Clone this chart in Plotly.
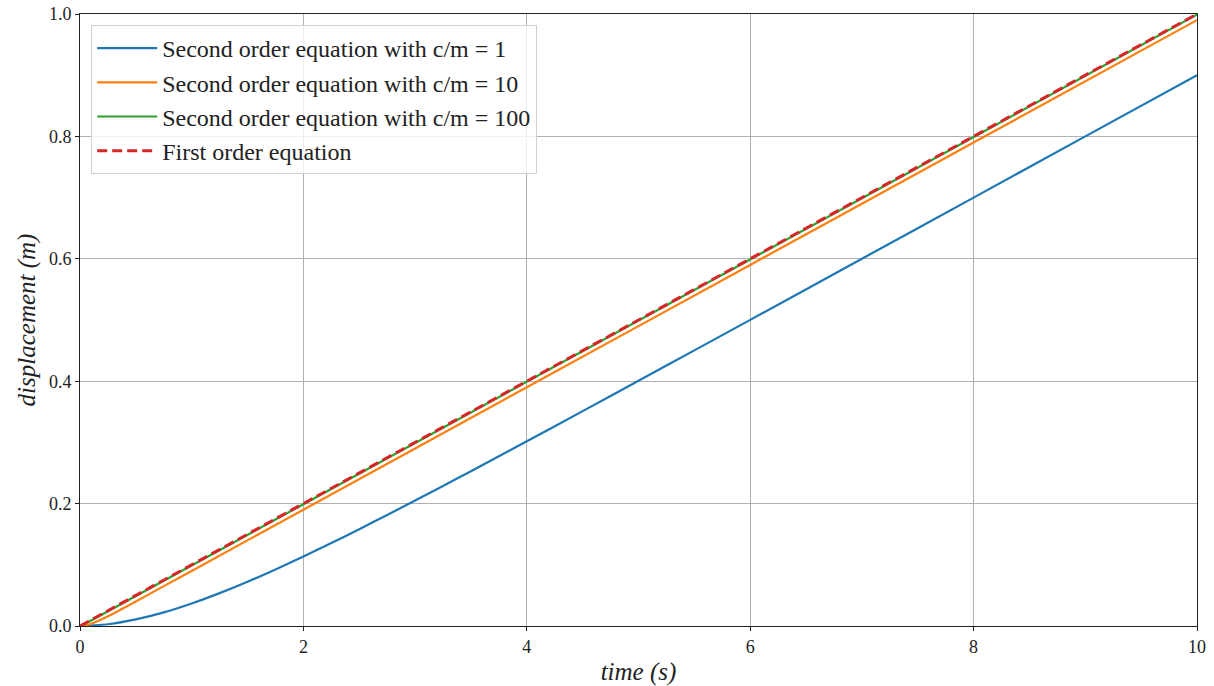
import plotly.graph_objects as go

# time samples (s) and displacements (m)
t_c1 = [0, 0.25, 0.5, 0.75, 1.0, 1.25, 1.5, 1.75, 2.0, 2.25, 2.5, 2.75, 3.0, 3.25, 3.5, 3.75, 4.0, 4.5, 5.0, 5.5, 6.0, 7.0, 8.0, 9.0, 10.0]
x_c1 = [0, 0.0029, 0.0107, 0.0222, 0.0368, 0.0537, 0.0723, 0.0924, 0.1135, 0.1355, 0.1582, 0.1814, 0.2050, 0.2289, 0.2530, 0.2773, 0.3018, 0.3511, 0.4007, 0.4504, 0.5002, 0.6001, 0.7000, 0.8000, 0.9000]

t_c10 = [0, 0.05, 0.1, 0.15, 0.2, 0.3, 0.4, 0.5, 0.75, 1.0, 2.0, 4.0, 6.0, 8.0, 10.0]
x_c10 = [0, 0.0011, 0.0037, 0.0072, 0.0114, 0.0205, 0.0302, 0.0401, 0.0651, 0.0900, 0.1900, 0.3900, 0.5900, 0.7900, 0.9900]

t_c100 = [0, 0.01, 0.02, 0.05, 0.1, 0.5, 2.0, 5.0, 10.0]
x_c100 = [0, 0.0004, 0.0011, 0.0041, 0.0090, 0.0490, 0.1990, 0.4990, 0.9990]

t_first = [0, 10.0]
x_first = [0, 1.0]

names = ["Second order equation with c/m = 1",
         "Second order equation with c/m = 10",
         "Second order equation with c/m = 100",
         "First order equation"]
colors = ["#1f77b4", "#ff7f0e", "#2ca02c", "#d62728"]

x_ticks = [0, 2, 4, 6, 8, 10]
y_ticks = [0.0, 0.2, 0.4, 0.6, 0.8, 1.0]
y_tick_text = ["0.0", "0.2", "0.4", "0.6", "0.8", "1.0"]

FONT = "Liberation Serif, DejaVu Serif, serif"

fig = go.Figure()
fig.add_trace(go.Scatter(x=t_c1, y=x_c1, mode="lines", name=names[0],
                         line=dict(color=colors[0], width=2.2, shape="spline", smoothing=0.6)))
fig.add_trace(go.Scatter(x=t_c10, y=x_c10, mode="lines", name=names[1],
                         line=dict(color=colors[1], width=2.2, shape="spline", smoothing=0.6)))
fig.add_trace(go.Scatter(x=t_c100, y=x_c100, mode="lines", name=names[2],
                         line=dict(color=colors[2], width=2.2)))
fig.add_trace(go.Scatter(x=t_first, y=x_first, mode="lines", name=names[3],
                         line=dict(color=colors[3], width=3, dash="10px,5px")))

axis_common = dict(
    showline=True, linecolor="#222", linewidth=1, mirror=True,
    showgrid=True, gridcolor="#b0b0b0", gridwidth=1,
    ticks="outside", ticklen=4, tickcolor="#222", tickwidth=1,
    zeroline=False,
    tickfont=dict(family=FONT, size=18, color="#222"),
)

fig.update_layout(
    width=1214, height=686,
    margin=dict(l=80, r=17, t=14, b=60, autoexpand=False),
    paper_bgcolor="white", plot_bgcolor="white",
    font=dict(family=FONT, color="#222"),
    xaxis=dict(range=[0, 10], tickvals=x_ticks,
               title=dict(text="<i>time (s)</i>", font=dict(family=FONT, size=25), standoff=6),
               **axis_common),
    yaxis=dict(range=[0, 1], tickvals=y_ticks, ticktext=y_tick_text,
               title=dict(text="<i>displacement (m)</i>", font=dict(family=FONT, size=25), standoff=6),
               **axis_common),
    legend=dict(x=0.01, y=0.982, xanchor="left", yanchor="top",
                bgcolor="rgba(255,255,255,0.8)", bordercolor="#d0d0d0", borderwidth=1,
                font=dict(family=FONT, size=24, color="#222"),
                itemwidth=60, tracegroupgap=0),
    showlegend=True,
)

fig.write_html("out.html")
